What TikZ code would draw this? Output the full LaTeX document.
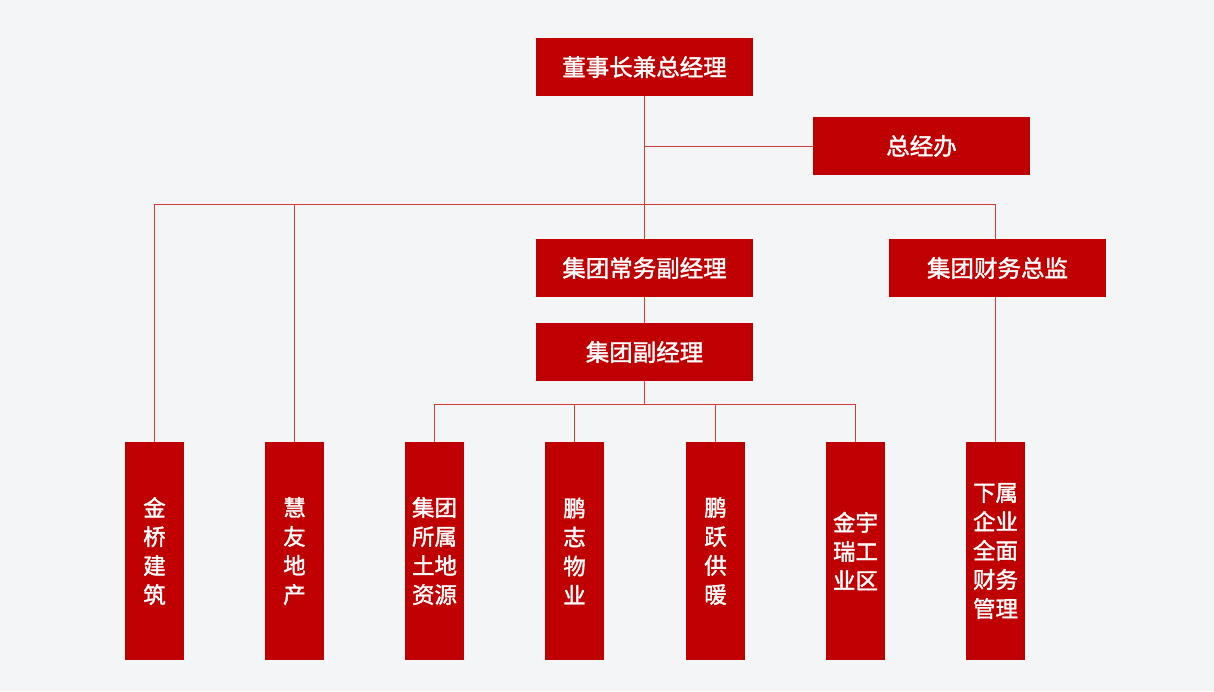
\documentclass[tikz,border=0pt]{standalone}
\usepackage{fontspec}
\newfontfamily\cjk{Noto Sans CJK SC}[FakeBold=1.6]
\definecolor{boxred}{RGB}{192,0,0}
\definecolor{linkred}{RGB}{206,60,60}
\definecolor{paper}{RGB}{244,245,247}
\begin{document}
\begin{tikzpicture}[x=1pt, y=-1pt, line join=round,
		wide/.style={fill=boxred, text=white, inner sep=0pt, minimum width=217pt, minimum height=58pt, font=\cjk\fontsize{23.5}{28}\selectfont},
		tall/.style={fill=boxred, text=white, inner sep=0pt, minimum width=59pt, minimum height=218pt, align=center, font=\cjk\fontsize{22.5}{29}\selectfont},
		link/.style={draw=linkred, line width=1pt}]
			\useasboundingbox[fill=paper] (0,0) rectangle (1214,691);
			% upper boxes
			\node[wide] (gm) at (644.5,67) {董事长兼总经理};
			\node[wide] (office) at (921.5,146) {总经办};
			\node[wide] (exec) at (644.5,268) {集团常务副经理};
			\node[wide] (cfo) at (997.5,268) {集团财务总监};
			\node[wide] (vgm) at (644.5,352) {集团副经理};
			% lower boxes
			\node[tall] (jq) at (154.5,551) {金\\桥\\建\\筑};
			\node[tall] (hy) at (294.5,551) {慧\\友\\地\\产};
			\node[tall] (td) at (434.5,551) {集团\\所属\\土地\\资源};
			\node[tall] (pz) at (574.5,551) {鹏\\志\\物\\业};
			\node[tall] (py) at (715.5,551) {鹏\\跃\\供\\暖};
			\node[tall] (jy) at (855.5,551) {金宇\\瑞工\\业区};
			\node[tall] (fin) at (995.5,551) {下属\\企业\\全面\\财务\\管理};
			% connectors
			\coordinate (bar) at (0,204);
			\coordinate (sub) at (0,404);
			\draw[link] (gm.south) -- (exec.north);
			\draw[link] (gm.south |- office.west) -- (office.west);
			\draw[link] (jq.north) |- (bar -| fin.north) -- (fin.north |- cfo.north);
			\draw[link] (hy.north) -- (hy.north |- bar);
			\draw[link] (fin.north |- cfo.south) -- (fin.north);
			\draw[link] (exec.south) -- (vgm.north);
			\draw[link] (vgm.south) -- (vgm.south |- sub);
			\draw[link] (td.north) |- (sub -| jy.north) -- (jy.north);
			\foreach \n in {pz,py}\draw[link] (\n.north) -- (\n.north |- sub);
		\end{tikzpicture}
\end{document}
